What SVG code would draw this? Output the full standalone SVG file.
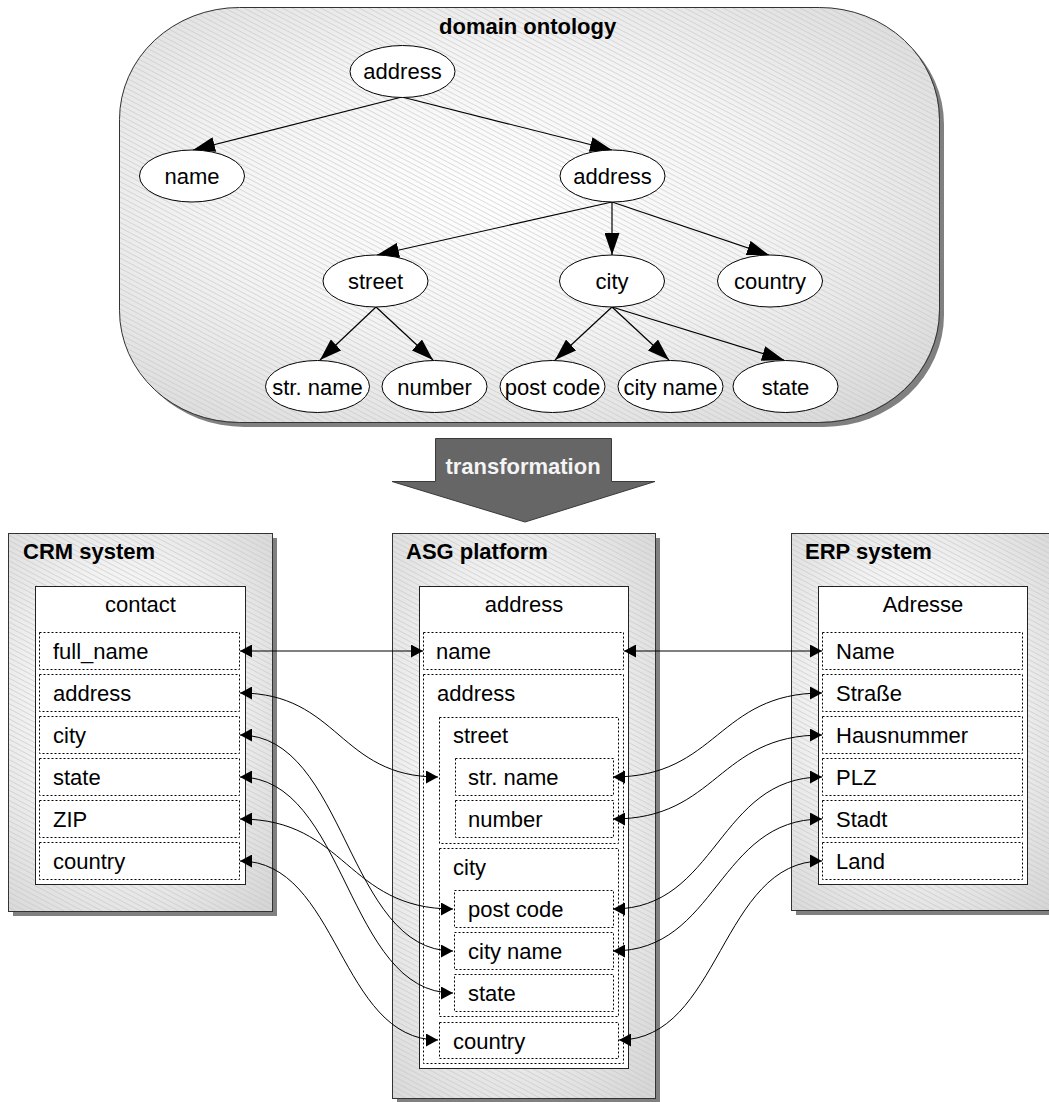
<svg xmlns="http://www.w3.org/2000/svg" width="1049" height="1102" viewBox="0 0 1049 1102">
<defs>
<radialGradient id="g" cx="0.45" cy="0.45" r="0.75"><stop offset="0" stop-color="#ffffff"/><stop offset="0.45" stop-color="#f4f4f4"/><stop offset="1" stop-color="#d6d6d6"/></radialGradient>
<pattern id="h" patternUnits="userSpaceOnUse" width="8" height="4.5" patternTransform="rotate(28)"><line x1="0" y1="0.5" x2="8" y2="0.5" stroke="#c4c4c4" stroke-width="0.6"/></pattern>
<marker id="ao" viewBox="0 0 22 15" refX="22" refY="7.5" markerWidth="22" markerHeight="15" markerUnits="userSpaceOnUse" orient="auto"><path d="M0,0 L22,7.5 L0,15 z"/></marker>
<marker id="am" viewBox="0 0 12 13" refX="12" refY="6.5" markerWidth="12" markerHeight="13" markerUnits="userSpaceOnUse" orient="auto-start-reverse"><path d="M0,0 L12,6.5 L0,13 z"/></marker>
</defs>
<style>
text{font-family:"Liberation Sans",Arial,sans-serif;font-size:22px;fill:#000}
.t{font-weight:bold}
.c{text-anchor:middle}
.sh{fill:#808080;stroke:none}
.bg{fill:url(#g);stroke:none}
.ht{fill:url(#h);stroke:#333;stroke-width:1}
.in{fill:#fff;stroke:#222;stroke-width:1}
.d{fill:#fff;stroke:#000;stroke-width:1;stroke-dasharray:2 2}
.e{fill:#fff;stroke:#000;stroke-width:1}
.oe{stroke:#000;stroke-width:1.2;fill:none;marker-end:url(#ao)}
.cn{stroke:#000;stroke-width:1;fill:none;marker-start:url(#am);marker-end:url(#am)}
</style>

<g id="domain-ontology">
<rect class="sh" x="124" y="12" width="820" height="415" rx="120" ry="112"/>
<rect class="bg" x="119" y="7" width="820" height="415" rx="120" ry="112"/>
<rect class="ht" x="119.5" y="7.5" width="820" height="415" rx="120" ry="112"/>
<text class="t" x="439" y="34">domain ontology</text>
</g>

<g id="ontology-edges">
<line class="oe" x1="402" y1="97" x2="193" y2="150"/>
<line class="oe" x1="402" y1="97" x2="612" y2="150"/>
<line class="oe" x1="612" y1="202" x2="377" y2="255"/>
<line class="oe" x1="612" y1="202" x2="612" y2="255"/>
<line class="oe" x1="612" y1="202" x2="769" y2="255"/>
<line class="oe" x1="376" y1="307" x2="320" y2="360"/>
<line class="oe" x1="376" y1="307" x2="433" y2="360"/>
<line class="oe" x1="612" y1="307" x2="555" y2="360"/>
<line class="oe" x1="612" y1="307" x2="669" y2="360"/>
<line class="oe" x1="612" y1="307" x2="784" y2="360"/>
</g>

<g id="o-address-root"><ellipse class="e" cx="402.5" cy="71.5" rx="52.5" ry="26"/><text class="c" x="402.5" y="79">address</text></g>
<g id="o-name"><ellipse class="e" cx="192" cy="176" rx="52.5" ry="26"/><text class="c" x="192" y="184">name</text></g>
<g id="o-address"><ellipse class="e" cx="612.5" cy="176" rx="52.5" ry="26"/><text class="c" x="612.5" y="184">address</text></g>
<g id="o-street"><ellipse class="e" cx="375.5" cy="281" rx="52.5" ry="26"/><text class="c" x="375.5" y="289">street</text></g>
<g id="o-city"><ellipse class="e" cx="612" cy="281" rx="52.5" ry="26"/><text class="c" x="612" y="289">city</text></g>
<g id="o-country"><ellipse class="e" cx="770" cy="281" rx="52.5" ry="26"/><text class="c" x="770" y="289">country</text></g>
<g id="o-str-name"><ellipse class="e" cx="317.5" cy="386.5" rx="52" ry="26"/><text class="c" x="317.5" y="394.5">str. name</text></g>
<g id="o-number"><ellipse class="e" cx="434.5" cy="386.5" rx="52.5" ry="26"/><text class="c" x="434.5" y="394.5">number</text></g>
<g id="o-post-code"><ellipse class="e" cx="552.5" cy="386.5" rx="52.5" ry="26"/><text class="c" x="552.5" y="394.5">post code</text></g>
<g id="o-city-name"><ellipse class="e" cx="670.5" cy="386.5" rx="52.5" ry="26"/><text class="c" x="670.5" y="394.5">city name</text></g>
<g id="o-state"><ellipse class="e" cx="785.5" cy="386.5" rx="52.5" ry="26"/><text class="c" x="785.5" y="394.5">state</text></g>

<g id="transformation">
<polygon points="435.5,438.5 611.5,438.5 611.5,481.5 655,481.5 525,522 392,481.5 435.5,481.5" fill="#666" stroke="#3a3a3a" stroke-width="1"/>
<text class="t c" x="523" y="474" style="fill:#f4f4f4">transformation</text>
</g>

<g id="crm-system">
<rect class="sh" x="13" y="538" width="264" height="378"/>
<rect class="bg" x="8" y="533" width="264" height="378"/>
<rect class="ht" x="8.5" y="533.5" width="264" height="378"/>
<text class="t" x="23" y="559">CRM system</text>
<rect class="in" x="35.5" y="586.5" width="210" height="298"/>
<text class="c" x="140.5" y="612">contact</text>
<rect class="d" x="39.5" y="632.5" width="200" height="37"/><text x="53" y="659">full_name</text>
<rect class="d" x="39.5" y="674.5" width="200" height="37"/><text x="53" y="701">address</text>
<rect class="d" x="39.5" y="716.5" width="200" height="37"/><text x="53" y="743">city</text>
<rect class="d" x="39.5" y="758.5" width="200" height="37"/><text x="53" y="785">state</text>
<rect class="d" x="39.5" y="800.5" width="200" height="37"/><text x="53" y="827">ZIP</text>
<rect class="d" x="39.5" y="842.5" width="200" height="37"/><text x="53" y="869">country</text>
</g>

<g id="asg-platform">
<rect class="sh" x="397" y="538" width="263" height="565"/>
<rect class="bg" x="392" y="533" width="263" height="565"/>
<rect class="ht" x="392.5" y="533.5" width="263" height="565"/>
<text class="t" x="406" y="559">ASG platform</text>
<rect class="in" x="419.5" y="586.5" width="209" height="482"/>
<text class="c" x="524" y="612">address</text>
<rect class="d" x="423.5" y="632.5" width="200" height="37"/><text x="436" y="659">name</text>
<rect class="d" x="423.5" y="674.5" width="200" height="389"/><text x="437" y="701">address</text>
<rect class="d" x="439.5" y="717.5" width="179" height="126"/><text x="453" y="743">street</text>
<rect class="d" x="455.5" y="758.5" width="158" height="37"/><text x="468" y="785">str. name</text>
<rect class="d" x="455.5" y="800.5" width="158" height="37"/><text x="468" y="827">number</text>
<rect class="d" x="439.5" y="848.5" width="179" height="168"/><text x="453" y="875">city</text>
<rect class="d" x="454.5" y="890.5" width="159" height="37"/><text x="468" y="917">post code</text>
<rect class="d" x="454.5" y="932.5" width="159" height="37"/><text x="468" y="959">city name</text>
<rect class="d" x="454.5" y="974.5" width="159" height="37"/><text x="468" y="1001">state</text>
<rect class="d" x="439.5" y="1022.5" width="179" height="36"/><text x="453" y="1049">country</text>
</g>

<g id="erp-system">
<rect class="sh" x="796" y="538" width="263" height="377"/>
<rect class="bg" x="791" y="533" width="263" height="377"/>
<rect class="ht" x="791.5" y="533.5" width="263" height="377"/>
<text class="t" x="805" y="559">ERP system</text>
<rect class="in" x="818.5" y="586.5" width="209" height="298"/>
<text class="c" x="923" y="612">Adresse</text>
<rect class="d" x="822.5" y="632.5" width="200" height="37"/><text x="836" y="659">Name</text>
<rect class="d" x="822.5" y="674.5" width="200" height="37"/><text x="836" y="701">Straße</text>
<rect class="d" x="822.5" y="716.5" width="200" height="37"/><text x="836" y="743">Hausnummer</text>
<rect class="d" x="822.5" y="758.5" width="200" height="37"/><text x="836" y="785">PLZ</text>
<rect class="d" x="822.5" y="800.5" width="200" height="37"/><text x="836" y="827">Stadt</text>
<rect class="d" x="822.5" y="842.5" width="200" height="37"/><text x="836" y="869">Land</text>
</g>

<g id="connectors">
<path class="cn" d="M240,651 L423,651"/>
<path class="cn" d="M240,693 C339,693 339,777 438,777"/>
<path class="cn" d="M240,735 C346.5,735 346.5,951 453,951"/>
<path class="cn" d="M240,777 C346.5,777 346.5,993 453,993"/>
<path class="cn" d="M240,819 C346.5,819 346.5,909 453,909"/>
<path class="cn" d="M240,861 C339,861 339,1040 438,1040"/>
<path class="cn" d="M822,651 L624,651"/>
<path class="cn" d="M822,693 C717.5,693 717.5,777 613,777"/>
<path class="cn" d="M822,735 C717.5,735 717.5,819 613,819"/>
<path class="cn" d="M822,777 C717.5,777 717.5,909 613,909"/>
<path class="cn" d="M822,819 C717.5,819 717.5,951 613,951"/>
<path class="cn" d="M822,861 C720.5,861 720.5,1040 619,1040"/>
</g>
</svg>
